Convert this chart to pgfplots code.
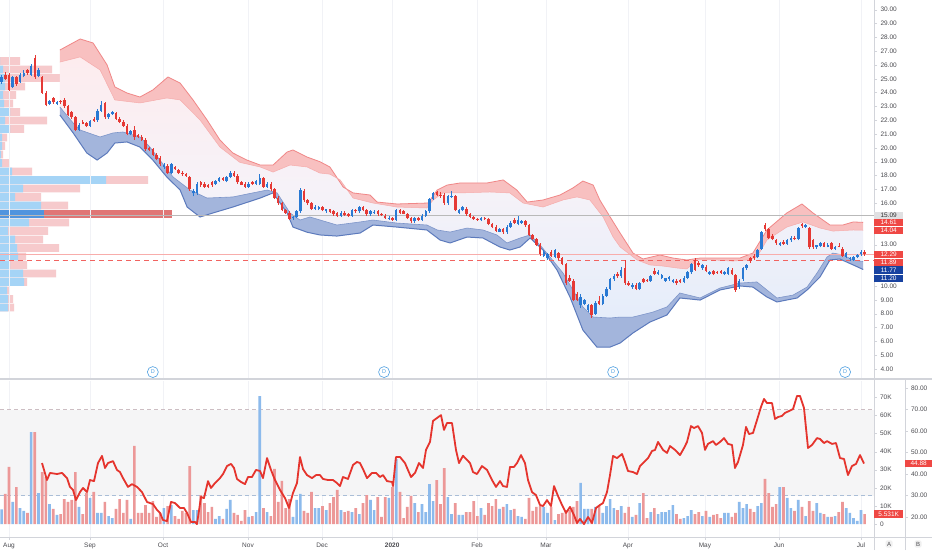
\documentclass[border=0pt]{standalone}
\usepackage{pgfplots}
\pgfplotsset{compat=1.18}
\usepackage{pgfplotstable}
\usepackage{fontspec}
\setmainfont{Liberation Sans}

\definecolor{upc}{RGB}{41,121,211}
\definecolor{dnc}{RGB}{229,57,53}
\definecolor{rband}{RGB}{248,192,192}
\definecolor{rbandl}{RGB}{240,135,135}
\definecolor{bband}{RGB}{163,181,220}
\definecolor{bbandl}{RGB}{92,122,188}
\definecolor{shtop}{RGB}{253,236,238}
\definecolor{shmid}{RGB}{246,242,248}
\definecolor{shbot}{RGB}{229,237,250}
\definecolor{vup}{RGB}{140,186,236}
\definecolor{vdn}{RGB}{236,152,152}
\definecolor{pfb}{RGB}{165,212,246}
\definecolor{pfr}{RGB}{246,202,204}
\definecolor{pocb}{RGB}{80,148,222}
\definecolor{pocr}{RGB}{224,118,118}
\definecolor{rsic}{RGB}{229,52,45}
\definecolor{gridc}{RGB}{241,242,246}
\definecolor{bandgray}{RGB}{245,245,246}
\definecolor{txt}{RGB}{75,75,80}
\definecolor{boxr}{RGB}{239,72,68}
\definecolor{boxb}{RGB}{24,66,160}
\definecolor{dcol}{RGB}{80,160,225}
\definecolor{sep}{RGB}{210,212,218}

\pgfplotsset{
  /pgf/number format/assume math mode=true,
  pane/.style={scale only axis, anchor=south west, xmin=-2.44, xmax=234.54,
    tick label style={font=\fontsize{6.5}{7}\selectfont, text=txt}},
  monthticks/.style={xtick={0,21.96,41.76,64.8,84.9,103.9,126.9,145.6,167.8,188.7,208.8,231}},
}
\tikzset{
  lbl/.style={anchor=west, minimum width=29pt, minimum height=7.2pt, inner sep=0pt,
    font=\fontsize{6.5}{7}\selectfont, text=white},
  dmark/.style={circle, draw=dcol, line width=0.6pt, inner sep=0pt, minimum size=11pt,
    fill=white, text=dcol, font=\fontsize{5.5}{6}\selectfont},
}

% candles: index, open, high, low, close
\pgfplotstableread{
i o h l c
-2 24.8 25.3 24.6 25.1
-1 25.3 25.5 24.9 25.0
0 25.3 25.4 24.1 24.2
1 24.4 25.2 24.3 25.1
2 25.1 25.2 24.5 24.6
3 24.8 25.4 24.7 25.3
4 25.2 25.6 25.1 25.4
5 25.6 25.7 25.3 25.4
6 25.3 26.1 25.2 25.9
7 26.5 26.7 25.0 25.1
8 25.2 25.8 25.1 25.6
9 25.1 25.2 23.9 24.0
10 24.0 24.1 23.0 23.1
11 23.2 23.5 23.1 23.4
12 23.6 23.7 23.2 23.3
13 23.2 23.4 23.1 23.35
14 23.4 23.5 23.2 23.3
15 23.5 23.6 22.9 23.0
16 23.0 23.1 22.3 22.4
17 22.6 22.7 22.1 22.2
18 22.2 22.3 21.2 21.3
19 21.3 21.8 21.2 21.65
20 21.9 22.0 21.7 21.75
21 21.8 21.9 21.5 21.55
22 21.6 22.0 21.5 21.95
23 22.1 22.2 21.9 21.95
24 22.0 22.8 21.9 22.7
25 22.7 23.4 22.6 23.1
26 23.25 23.3 22.1 22.2
27 22.2 22.5 22.1 22.45
28 22.45 22.7 22.4 22.6
29 22.5 22.6 22.0 22.1
30 22.1 22.2 21.8 21.9
31 21.9 22.0 21.5 21.6
32 21.6 21.7 20.9 21.0
33 21.0 21.3 20.9 21.2
34 21.3 21.6 20.6 20.8
35 20.9 21.0 20.7 20.8
36 20.8 20.9 20.5 20.6
37 20.6 20.7 19.8 19.9
38 20.0 20.1 19.75 19.85
39 19.9 20.0 19.4 19.5
40 19.5 19.6 19.1 19.2
41 19.3 19.4 18.7 18.8
42 18.6 18.9 18.5 18.75
43 18.7 18.8 18.1 18.2
44 18.2 18.9 18.1 18.8
45 18.6 18.7 18.4 18.45
46 18.4 18.5 18.1 18.2
47 18.2 18.3 18.0 18.1
48 18.1 18.2 17.9 17.95
49 17.9 18.0 16.9 17.0
50 16.7 17.0 16.5 16.9
51 16.7 17.5 16.6 17.4
52 17.5 17.6 17.2 17.3
53 17.4 17.5 17.1 17.2
54 17.3 17.4 17.1 17.2
55 17.5 17.6 17.2 17.3
56 17.4 17.7 17.3 17.6
57 17.6 17.9 17.5 17.8
58 17.8 17.9 17.6 17.7
59 17.6 18.0 17.5 17.9
60 17.9 18.3 17.8 18.2
61 18.2 18.3 17.9 18.0
62 18.0 18.1 17.4 17.5
63 17.5 17.6 17.3 17.35
64 17.4 17.5 17.1 17.2
65 17.2 17.5 17.1 17.4
66 17.5 17.6 17.3 17.4
67 17.4 17.7 17.3 17.6
68 17.4 18.1 17.3 17.8
69 17.8 17.9 17.1 17.2
70 17.2 17.5 17.1 17.4
71 17.4 17.5 16.9 17.0
72 17.0 17.1 16.3 16.4
73 16.4 16.5 15.9 16.0
74 16.0 16.1 15.4 15.5
75 15.5 15.6 15.2 15.3
76 15.3 15.4 14.8 14.85
77 14.9 15.1 14.8 15.0
78 15.0 15.5 14.9 15.4
79 15.4 17.1 15.3 16.95
80 16.9 17.0 16.1 16.2
81 16.2 16.3 15.9 16.0
82 16.0 16.1 15.5 15.6
83 15.6 15.85 15.5 15.75
84 15.6 15.8 15.5 15.7
85 15.7 15.8 15.4 15.5
86 15.4 15.6 15.3 15.55
87 15.55 15.6 15.3 15.35
88 15.4 15.5 15.1 15.2
89 15.3 15.35 15.0 15.1
90 15.1 15.4 15.0 15.3
91 15.3 15.4 15.1 15.15
92 15.2 15.3 15.0 15.1
93 15.1 15.6 15.0 15.5
94 15.5 15.6 15.3 15.4
95 15.4 15.8 15.3 15.7
96 15.7 15.8 15.4 15.5
97 15.5 15.6 15.1 15.2
98 15.2 15.5 15.1 15.4
99 15.3 15.5 15.2 15.35
100 15.4 15.5 15.1 15.2
101 15.2 15.3 15.1 15.15
102 15.1 15.2 14.85 14.9
103 14.85 15.05 14.8 14.95
104 14.95 15.0 14.7 14.8
105 14.8 15.6 14.7 15.5
106 15.5 15.6 15.2 15.3
107 15.4 15.5 15.2 15.25
108 15.25 15.3 14.85 14.9
109 14.9 15.0 14.6 14.7
110 14.7 15.0 14.6 14.9
111 14.9 15.0 14.7 14.8
112 14.8 15.2 14.7 15.1
113 15.1 15.5 15.0 15.4
114 15.4 16.4 15.3 16.3
115 16.3 16.8 16.2 16.7
116 16.8 16.9 16.5 16.6
117 16.6 16.8 16.4 16.5
118 16.6 16.7 15.9 16.0
119 16.0 16.6 15.9 16.5
120 16.45 16.9 16.4 16.55
121 16.5 16.6 15.4 15.5
122 15.3 15.6 15.2 15.5
123 15.5 15.8 15.4 15.7
124 15.6 15.7 15.1 15.2
125 15.2 15.3 14.9 15.0
126 15.0 15.1 14.8 14.85
127 14.85 14.9 14.7 14.8
128 14.75 15.0 14.7 14.95
129 14.95 15.0 14.8 14.85
130 14.85 14.9 14.4 14.5
131 14.5 14.6 14.2 14.3
132 14.3 14.4 13.9 14.0
133 13.95 14.2 13.9 14.15
134 14.1 14.2 13.8 13.9
135 13.9 14.4 13.8 14.3
136 14.3 14.7 14.2 14.6
137 14.8 14.9 14.5 14.55
138 14.5 15.1 14.4 14.8
139 14.6 14.8 14.5 14.7
140 14.7 14.8 14.3 14.4
141 14.4 14.5 13.6 13.7
142 13.7 13.8 13.3 13.4
143 13.4 13.5 12.9 13.0
144 13.0 13.1 12.2 12.3
145 12.2 12.6 12.1 12.45
146 12.0 12.4 11.9 12.3
147 12.5 12.6 12.1 12.2
148 12.1 12.7 12.0 12.6
149 12.4 12.5 11.9 12.0
150 12.0 12.1 11.5 11.6
151 11.6 11.7 10.1 10.2
152 10.6 10.8 10.3 10.4
153 10.4 10.5 8.9 9.0
154 9.4 9.6 8.9 9.0
155 8.6 9.4 8.4 9.2
156 8.7 9.1 8.6 9.0
157 8.3 8.7 8.1 8.6
158 8.6 8.7 7.7 7.9
159 8.0 8.9 7.9 8.8
160 8.9 9.3 8.6 8.7
161 8.7 9.4 8.6 9.3
162 9.3 9.9 9.2 9.8
163 9.8 10.6 9.7 10.5
164 10.5 10.9 10.4 10.75
165 10.9 11.0 10.6 10.7
166 10.7 11.4 10.6 11.2
167 11.3 11.9 10.1 10.2
168 10.2 10.4 10.0 10.1
169 9.9 10.2 9.8 10.1
170 10.1 10.2 9.7 9.8
171 9.8 10.3 9.7 10.2
172 10.5 10.6 10.2 10.3
173 10.45 10.5 10.3 10.35
174 10.35 10.8 10.3 10.7
175 11.1 11.3 10.8 10.9
176 10.9 11.2 10.8 11.05
177 10.6 10.9 10.5 10.8
178 10.4 10.6 10.3 10.55
179 10.5 10.7 10.4 10.65
180 10.3 10.5 10.2 10.45
181 10.4 10.5 10.1 10.2
182 10.45 10.5 10.2 10.3
183 10.3 10.7 10.2 10.6
184 10.6 11.1 10.5 11.0
185 11.0 11.7 10.9 11.6
186 11.9 12.0 11.1 11.2
187 11.7 11.8 11.4 11.5
188 11.3 11.6 11.2 11.5
189 11.4 11.5 11.0 11.1
190 10.9 11.1 10.8 11.05
191 11.1 11.2 10.8 10.9
192 11.05 11.1 10.9 10.95
193 11.1 11.2 10.9 10.95
194 10.9 11.1 10.8 11.05
195 10.9 11.4 10.8 11.3
196 11.2 11.3 10.8 10.85
197 10.8 10.9 9.6 9.7
198 9.9 10.5 9.8 10.4
199 10.5 11.4 10.4 11.3
200 11.3 11.6 11.2 11.5
201 12.0 12.1 11.7 11.8
202 12.2 12.3 11.9 12.0
203 12.1 12.7 12.0 12.6
204 12.7 14.0 12.6 13.9
205 14.4 14.6 14.0 14.1
206 14.1 14.2 13.4 13.5
207 13.6 13.8 13.3 13.4
208 13.3 13.4 13.0 13.1
209 13.0 13.2 12.9 13.1
210 13.2 13.3 13.0 13.05
211 13.05 13.4 13.0 13.3
212 13.3 13.6 13.2 13.5
213 13.5 13.6 13.3 13.4
214 13.4 14.3 13.3 14.2
215 14.5 14.6 14.2 14.35
216 14.3 14.5 14.2 14.45
217 14.2 14.3 12.7 12.8
218 13.3 13.4 12.7 12.8
219 12.8 13.0 12.7 12.95
220 12.9 13.2 12.8 13.1
221 13.1 13.2 12.8 12.85
222 12.85 13.1 12.8 13.0
223 13.1 13.2 12.6 12.7
224 12.7 12.9 12.6 12.8
225 12.9 13.1 12.8 12.85
226 12.7 12.8 12.1 12.2
227 12.1 12.5 12.0 12.4
228 11.95 12.1 11.85 12.05
229 11.9 12.2 11.8 12.1
230 12.1 12.3 12.0 12.25
231 12.3 12.6 12.2 12.5
232 12.5 12.6 12.2 12.29
}\candles

% band edges (upper outer, upper inner, lower inner, lower outer)
\pgfplotstableread{
i p
13.8 27.08
19.3 27.88
22.8 27.59
26.6 26.0
28.7 24.41
32.0 23.97
35.5 23.68
39.0 24.19
43.1 25.13
46.4 24.69
49.9 23.47
53.7 22.02
57.2 20.57
60.7 19.63
64.5 19.12
68.1 18.76
71.6 18.76
75.4 19.70
77.0 19.85
80.8 19.34
84.3 19.0
87.0 18.62
90.6 17.17
93.3 16.74
97.9 16.59
99.8 16.08
105.2 15.94
113.6 16.01
116.1 16.95
118.8 17.31
122.3 17.46
129.6 17.46
134.0 17.68
137.7 16.95
140.5 16.08
144.8 16.23
149.4 16.59
152.9 17.10
155.6 17.60
158.4 17.31
160.2 16.23
163.0 15.0
165.7 13.84
169.2 12.39
171.9 11.96
176.5 12.25
180.0 12.03
183.8 11.89
187.4 12.03
192.8 12.03
198.2 12.03
201.7 12.39
205.5 14.06
210.9 15.29
215.0 15.94
218.0 15.29
222.6 14.42
226.1 14.42
228.9 14.64
231.6 14.61
}\uo
\pgfplotstableread{
i p
13.8 26.21
19.3 26.58
24.7 25.64
28.7 23.47
35.5 23.25
42.8 23.61
46.4 23.47
51.8 22.02
57.2 20.06
62.6 18.95
68.1 18.62
71.6 18.25
76.2 18.76
80.8 18.62
84.3 18.18
87.0 18.1
89.8 17.68
93.3 16.37
98.7 16.01
105.2 15.72
113.3 15.65
115.0 16.23
117.7 16.74
122.3 16.74
130.4 16.81
135.8 16.74
139.4 16.01
144.8 15.72
150.2 16.23
154.0 16.45
157.5 16.23
161.1 15.0
163.8 13.55
165.7 12.83
170.3 11.89
173.8 11.53
177.3 11.45
181.1 11.31
183.8 11.24
186.6 11.89
190.9 11.89
196.3 11.81
200.1 11.89
202.8 12.10
205.5 13.33
210.9 14.27
215.3 14.64
219.9 14.20
223.4 13.98
228.9 14.06
231.6 14.04
}\ui
\pgfplotstableread{
i p
13.8 22.96
17.4 21.80
19.3 21.29
24.7 20.79
28.2 21.08
30.9 21.15
35.5 20.79
38.2 20.06
40.9 19.12
44.5 17.89
49.1 16.95
53.7 16.37
60.7 16.45
70.0 16.95
72.7 16.74
76.2 15.29
78.9 14.78
81.6 15.0
88.9 14.42
95.2 14.64
98.7 14.78
105.2 14.56
113.3 14.42
116.1 14.06
119.6 13.91
124.2 14.20
128.5 14.06
132.3 13.70
135.0 13.12
138.6 13.48
141.3 13.70
144.0 12.97
146.7 12.10
150.2 10.95
152.9 9.72
155.6 8.49
158.4 7.76
163.0 7.69
165.7 7.76
169.2 7.76
174.6 8.12
178.4 8.49
181.9 9.50
187.4 9.14
192.8 9.86
198.2 10.22
202.8 10.30
205.5 9.72
208.2 9.14
212.6 9.35
216.4 9.93
219.1 10.95
221.8 12.10
223.4 12.39
226.1 12.25
228.9 11.89
231.6 11.77
}\li
\pgfplotstableread{
i p
13.8 22.38
17.4 21.08
21.1 19.63
23.9 19.12
26.6 19.63
28.7 20.35
32.0 20.43
35.5 20.06
39.0 19.12
42.8 17.89
46.4 16.95
48.3 15.72
51.8 15.0
55.3 15.29
60.7 15.72
68.1 16.37
71.6 16.74
75.4 15.29
77.0 14.27
80.8 13.9
84.3 13.7
88.9 13.62
95.2 13.84
98.7 14.42
105.2 14.27
113.3 14.06
116.9 13.33
119.6 13.12
124.2 13.55
128.5 13.48
133.1 12.83
135.8 12.61
138.6 12.83
141.3 13.48
144.8 12.61
148.6 11.16
152.1 9.21
155.6 6.82
159.4 5.59
163.0 5.59
165.7 5.88
169.2 6.61
173.8 7.40
178.4 7.91
181.9 9.14
187.4 8.99
192.8 9.72
198.2 10.01
201.7 9.93
205.5 9.21
208.2 8.85
213.7 9.14
216.4 9.72
219.9 10.66
222.6 11.89
225.3 11.96
228.9 11.53
231.6 11.20
}\lo

% closed outlines of the three filled regions (one edge forward, the other back)
\pgfplotstableread{
i p
13.8 27.08
19.3 27.88
22.8 27.59
26.6 26.0
28.7 24.41
32.0 23.97
35.5 23.68
39.0 24.19
43.1 25.13
46.4 24.69
49.9 23.47
53.7 22.02
57.2 20.57
60.7 19.63
64.5 19.12
68.1 18.76
71.6 18.76
75.4 19.70
77.0 19.85
80.8 19.34
84.3 19.0
87.0 18.62
90.6 17.17
93.3 16.74
97.9 16.59
99.8 16.08
105.2 15.94
113.6 16.01
116.1 16.95
118.8 17.31
122.3 17.46
129.6 17.46
134.0 17.68
137.7 16.95
140.5 16.08
144.8 16.23
149.4 16.59
152.9 17.10
155.6 17.60
158.4 17.31
160.2 16.23
163.0 15.0
165.7 13.84
169.2 12.39
171.9 11.96
176.5 12.25
180.0 12.03
183.8 11.89
187.4 12.03
192.8 12.03
198.2 12.03
201.7 12.39
205.5 14.06
210.9 15.29
215.0 15.94
218.0 15.29
222.6 14.42
226.1 14.42
228.9 14.64
231.6 14.61
231.6 14.04
228.9 14.06
223.4 13.98
219.9 14.20
215.3 14.64
210.9 14.27
205.5 13.33
202.8 12.10
200.1 11.89
196.3 11.81
190.9 11.89
186.6 11.89
183.8 11.24
181.1 11.31
177.3 11.45
173.8 11.53
170.3 11.89
165.7 12.83
163.8 13.55
161.1 15.0
157.5 16.23
154.0 16.45
150.2 16.23
144.8 15.72
139.4 16.01
135.8 16.74
130.4 16.81
122.3 16.74
117.7 16.74
115.0 16.23
113.3 15.65
105.2 15.72
98.7 16.01
93.3 16.37
89.8 17.68
87.0 18.1
84.3 18.18
80.8 18.62
76.2 18.76
71.6 18.25
68.1 18.62
62.6 18.95
57.2 20.06
51.8 22.02
46.4 23.47
42.8 23.61
35.5 23.25
28.7 23.47
24.7 25.64
19.3 26.58
13.8 26.21
}\upoly
\pgfplotstableread{
i p
13.8 26.21
19.3 26.58
24.7 25.64
28.7 23.47
35.5 23.25
42.8 23.61
46.4 23.47
51.8 22.02
57.2 20.06
62.6 18.95
68.1 18.62
71.6 18.25
76.2 18.76
80.8 18.62
84.3 18.18
87.0 18.1
89.8 17.68
93.3 16.37
98.7 16.01
105.2 15.72
113.3 15.65
115.0 16.23
117.7 16.74
122.3 16.74
130.4 16.81
135.8 16.74
139.4 16.01
144.8 15.72
150.2 16.23
154.0 16.45
157.5 16.23
161.1 15.0
163.8 13.55
165.7 12.83
170.3 11.89
173.8 11.53
177.3 11.45
181.1 11.31
183.8 11.24
186.6 11.89
190.9 11.89
196.3 11.81
200.1 11.89
202.8 12.10
205.5 13.33
210.9 14.27
215.3 14.64
219.9 14.20
223.4 13.98
228.9 14.06
231.6 14.04
231.6 11.77
228.9 11.89
226.1 12.25
223.4 12.39
221.8 12.10
219.1 10.95
216.4 9.93
212.6 9.35
208.2 9.14
205.5 9.72
202.8 10.30
198.2 10.22
192.8 9.86
187.4 9.14
181.9 9.50
178.4 8.49
174.6 8.12
169.2 7.76
165.7 7.76
163.0 7.69
158.4 7.76
155.6 8.49
152.9 9.72
150.2 10.95
146.7 12.10
144.0 12.97
141.3 13.70
138.6 13.48
135.0 13.12
132.3 13.70
128.5 14.06
124.2 14.20
119.6 13.91
116.1 14.06
113.3 14.42
105.2 14.56
98.7 14.78
95.2 14.64
88.9 14.42
81.6 15.0
78.9 14.78
76.2 15.29
72.7 16.74
70.0 16.95
60.7 16.45
53.7 16.37
49.1 16.95
44.5 17.89
40.9 19.12
38.2 20.06
35.5 20.79
30.9 21.15
28.2 21.08
24.7 20.79
19.3 21.29
17.4 21.80
13.8 22.96
}\mpoly
\pgfplotstableread{
i p
13.8 22.96
17.4 21.80
19.3 21.29
24.7 20.79
28.2 21.08
30.9 21.15
35.5 20.79
38.2 20.06
40.9 19.12
44.5 17.89
49.1 16.95
53.7 16.37
60.7 16.45
70.0 16.95
72.7 16.74
76.2 15.29
78.9 14.78
81.6 15.0
88.9 14.42
95.2 14.64
98.7 14.78
105.2 14.56
113.3 14.42
116.1 14.06
119.6 13.91
124.2 14.20
128.5 14.06
132.3 13.70
135.0 13.12
138.6 13.48
141.3 13.70
144.0 12.97
146.7 12.10
150.2 10.95
152.9 9.72
155.6 8.49
158.4 7.76
163.0 7.69
165.7 7.76
169.2 7.76
174.6 8.12
178.4 8.49
181.9 9.50
187.4 9.14
192.8 9.86
198.2 10.22
202.8 10.30
205.5 9.72
208.2 9.14
212.6 9.35
216.4 9.93
219.1 10.95
221.8 12.10
223.4 12.39
226.1 12.25
228.9 11.89
231.6 11.77
231.6 11.20
228.9 11.53
225.3 11.96
222.6 11.89
219.9 10.66
216.4 9.72
213.7 9.14
208.2 8.85
205.5 9.21
201.7 9.93
198.2 10.01
192.8 9.72
187.4 8.99
181.9 9.14
178.4 7.91
173.8 7.40
169.2 6.61
165.7 5.88
163.0 5.59
159.4 5.59
155.6 6.82
152.1 9.21
148.6 11.16
144.8 12.61
141.3 13.48
138.6 12.83
135.8 12.61
133.1 12.83
128.5 13.48
124.2 13.55
119.6 13.12
116.9 13.33
113.3 14.06
105.2 14.27
98.7 14.42
95.2 13.84
88.9 13.62
84.3 13.7
80.8 13.9
77.0 14.27
75.4 15.29
71.6 16.74
68.1 16.37
60.7 15.72
55.3 15.29
51.8 15.0
48.3 15.72
46.4 16.95
42.8 17.89
39.0 19.12
35.5 20.06
32.0 20.43
28.7 20.35
26.6 19.63
23.9 19.12
21.1 19.63
17.4 21.08
13.8 22.38
}\lpoly

\pgfplotstableread{
p b t
26.29 0 20
25.67 3 52
25.06 5 69
24.44 5 25
23.83 3 16
23.21 4 13
22.60 10 20
21.98 5 47
21.37 10 24
20.75 2 7
20.14 2 5
19.52 1 3
18.91 2 9
18.29 12 32
17.68 106 148
17.06 23 80
16.45 15 41
15.83 41 68
14.60 29 69
13.99 8 48
13.37 15 43
12.76 17 59
12.14 18 26
11.53 10 27
10.91 23 56
10.30 24 27
9.68 7 9
9.07 8 13
8.45 8 14
}\vprof

\pgfplotstableread{
i v d
-2 8.1 1
-1 16.6 0
0 31.5 0
1 12.2 1
2 20.4 0
3 8.8 1
4 7.2 1
5 6.1 0
6 50.8 1
7 50.8 0
8 17.1 1
9 28.7 0
10 26 0
11 11 1
12 8.3 0
13 5 1
14 5.5 0
15 13.8 0
16 12.2 0
17 13.3 0
18 28.7 0
19 9.4 1
20 5.5 0
21 17.1 0
22 14.4 1
23 17.7 0
24 6.1 1
25 6.1 1
26 12.2 0
27 4.4 1
28 3.3 1
29 8.3 0
30 13.8 0
31 6.1 0
32 13.3 0
33 2.8 1
34 43.1 0
35 6.1 0
36 6.1 0
37 10.5 0
38 6.1 0
39 12.7 0
40 3.9 0
41 6.1 0
42 8.8 1
43 9.9 0
44 10.5 1
45 4.4 0
46 2.8 0
47 7.2 0
48 6.1 0
49 32 0
50 7.7 1
51 7.7 1
52 16 0
53 11.6 0
54 6.6 0
55 9.4 0
56 2.8 1
57 4.4 1
58 2.8 0
59 8.3 1
60 13.3 1
61 6.1 0
62 5 0
63 1.7 0
64 7.7 0
65 3.9 1
66 4.4 0
67 6.6 1
68 70.7 1
69 8.8 0
70 6.6 1
71 4.4 0
72 30.4 0
73 12.2 0
74 23.8 0
75 8.8 0
76 13.8 0
77 3.9 1
78 13.3 1
79 16.6 1
80 7.2 0
81 6.1 0
82 17.7 0
83 8.8 1
84 8.8 1
85 9.9 0
86 7.7 1
87 11.6 0
88 14.9 0
89 18.8 0
90 7.7 1
91 6.6 0
92 7.2 0
93 6.6 1
94 8.8 0
95 5.5 1
96 11.6 0
97 16 0
98 13.3 1
99 7.7 1
100 14.9 0
101 3.9 0
102 14.9 0
103 14.4 1
104 20.4 0
105 35.9 1
106 17.7 0
107 3.3 0
108 9.4 0
109 15.5 0
110 11.6 1
111 6.6 0
112 11 1
113 6.6 1
114 22.1 1
115 12.7 1
116 24.3 0
117 11 0
118 30.9 0
119 14.9 1
120 5.5 1
121 11.6 0
122 5 1
123 5 1
124 6.6 0
125 6.6 0
126 12.7 0
127 4.4 0
128 8.8 1
129 5 0
130 11.6 0
131 9.9 0
132 13.8 0
133 8.3 1
134 9.4 0
135 11 1
136 7.7 1
137 8.3 0
138 4.4 1
139 3.9 1
140 2.8 0
141 14.4 0
142 7.2 0
143 9.4 0
144 9.9 0
145 9.4 1
146 6.1 1
147 9.4 0
148 2.2 1
149 5.5 0
150 6.1 0
151 7.7 0
152 7.7 0
153 9.4 0
154 12.7 0
155 22.7 1
156 8.3 1
157 8.3 1
158 8.3 0
159 9.4 1
160 9.9 0
161 6.1 1
162 9.9 1
163 13.8 1
164 8.8 1
165 7.7 0
166 9.9 1
167 6.1 0
168 9.4 0
169 3.9 1
170 5 0
171 11.6 1
172 17.1 0
173 3.3 0
174 6.6 1
175 8.8 0
176 5.5 1
177 6.6 1
178 6.6 1
179 7.7 1
180 10.5 1
181 5.5 0
182 2.8 0
183 3.3 1
184 4.4 1
185 7.7 1
186 5.5 0
187 6.6 0
188 4.4 1
189 7.2 0
190 3.9 1
191 5 0
192 5.5 0
193 3.3 0
194 6.1 1
195 6.1 1
196 3.9 0
197 6.1 0
198 12.2 1
199 8.8 1
200 11 1
201 8.3 0
202 6.6 0
203 9.9 1
204 11.6 1
205 24.9 0
206 17.1 0
207 9.4 0
208 11 0
209 20.4 1
210 20.4 0
211 14.4 1
212 8.8 1
213 7.2 0
214 13.3 1
215 9.4 0
216 4.4 1
217 12.7 0
218 7.2 0
219 11.6 1
220 6.1 1
221 5.5 0
222 3.9 1
223 3.9 0
224 4.4 1
225 6.6 0
226 12.2 0
227 8.8 1
228 6.1 1
229 3.3 1
230 1.7 1
231 7.7 1
232 5.5 0
}\vol

\pgfplotstableread{
i r
8.95 45.1
10.30 37.2
11.12 40.5
13.02 40
14.37 40.5
15.73 38.1
16.54 34
17.35 32.6
18.17 27.9
19.25 31.6
20.07 33.5
21.15 31.6
21.96 37.2
23.05 36.7
24.13 45.1
25.22 48.4
26.03 42.8
26.84 45.1
28.20 46
29.28 41.9
30.10 40.9
30.91 38.1
32.27 34
33.35 35.3
34.71 34
36.06 31.6
37.42 27
39.05 26
40.13 23.3
40.94 21.9
41.76 18.6
42.84 18.1
43.93 27
45.01 26.5
46.37 24.2
47.45 24.2
48.27 21.9
49.35 17.7
50.43 17.7
50.98 16.7
52.06 29.3
52.87 28.8
53.96 36.7
54.77 33.5
55.86 35.8
57.21 38.1
58.03 40
59.11 43.7
60.20 44.7
61.01 42.8
61.82 37.7
62.91 36.3
63.99 35.3
64.81 38.6
65.89 38.6
66.97 41.9
68.06 41.4
68.87 38.1
69.96 47.4
71.04 41.9
72.13 37.2
73.48 32.6
74.84 28.8
75.92 24.2
77.01 31.2
78.09 35.8
78.90 47.9
79.72 42.3
80.80 39.5
82.16 38.1
83.24 39.5
84.33 39.5
85.14 37.7
86.50 37.2
87.85 37.2
88.94 35.8
89.75 34.4
90.56 38.6
91.92 37.7
93.28 44.2
94.36 45.6
95.17 45.1
95.99 42.3
97.07 38.1
98.43 40.5
99.51 40.5
100.60 38.6
101.41 39.5
102.49 36.7
103.85 36.3
104.12 34.4
104.93 47.9
106.02 47.9
107.37 45.1
109.00 38.6
110.09 40.5
111.17 45.1
112.26 42.8
113.07 51.2
114.15 54.9
114.97 64.7
117.14 67.4
117.95 60.5
118.76 63.7
120.12 63.7
121.20 51.2
122.02 45.1
123.10 48.5
125.00 45.1
125.81 40.9
126.90 40
128.25 43.7
129.61 41.9
130.97 37.2
132.05 34
133.14 36.7
133.95 34.4
135.03 34
135.85 43.3
136.93 43.3
137.74 45.1
138.83 48.8
139.91 45.1
140.73 37.2
141.81 31.6
142.89 30.2
143.98 25.6
144.79 25.1
145.88 27.9
146.96 25.1
147.78 34.4
148.86 29.8
149.95 25.6
151.03 21.9
152.11 24.7
153.20 20.9
154.01 17.2
154.83 19.1
155.91 16.7
157.00 20
158.08 17.2
159.17 24.2
160.25 25.6
161.06 26.5
162.15 31.6
162.96 39.5
163.78 48.4
164.86 47.4
166.22 49.3
167.03 45.6
167.84 41.4
169.20 40.9
170.28 40
171.10 43.7
172.45 46
173.27 47.4
174.35 50.7
175.17 51.2
175.98 54.9
177.34 51.2
178.42 49.8
179.24 53
180.59 51.2
181.95 48.8
183.03 52.1
183.84 54.9
184.93 62.3
185.74 61.4
186.82 62.3
187.91 59.1
188.72 51.2
189.53 54
190.89 55.3
191.70 53.5
192.79 54.9
193.87 56.7
194.96 54
196.04 53.5
196.85 42.8
197.67 45.6
199.02 53.5
199.84 61.9
200.65 58.6
201.74 59.1
202.82 65.1
203.90 71.2
204.72 74.9
205.53 73
206.89 73
207.70 65.6
208.51 66.5
209.60 67
210.41 68.4
211.50 69.3
212.58 70.2
213.67 76.3
214.48 76.3
215.56 70.7
216.65 52.1
217.73 53.5
219.09 56.7
219.90 56.3
220.99 54.4
221.80 55.3
223.16 54
224.24 54.4
225.33 47.4
226.41 47
227.49 39.5
228.58 43.7
229.66 44.7
230.75 48.8
231.83 44.88
}\rsi

\begin{document}
\begin{tikzpicture}[x=1pt,y=1pt]
\fill[white] (0,0) rectangle (932,550);
\path[use as bounding box] (0,0) rectangle (932,550);

% ---------- volume profile (behind price pane)
\begin{axis}[pane, at={(0pt,172pt)}, width=874pt, height=378pt,
  xmin=0, xmax=874, ymin=3.35, ymax=30.70, hide axis]
\addplot[xbar, bar width=0.56, bar shift=0pt, draw=none, fill=pfr] table[x=t, y=p] {\vprof};
\addplot[xbar, bar width=0.56, bar shift=0pt, draw=none, fill=pfb] table[x=b, y=p] {\vprof};
\addplot[xbar, bar width=0.56, bar shift=0pt, draw=none, fill=pocr] coordinates {(172,15.22)};
\addplot[xbar, bar width=0.56, bar shift=0pt, draw=none, fill=pocb] coordinates {(44,15.22)};
\end{axis}

% ---------- price pane
\begin{axis}[pane, at={(0pt,172pt)}, width=874pt, height=378pt,
  ymin=3.35, ymax=30.70,
  axis x line*=bottom, axis y line*=right,
  x axis line style={draw=none}, y axis line style={draw=sep},
  monthticks, xticklabels={}, xtick style={draw=none},
  xmajorgrids, major x grid style={gridc, line width=0.6pt},
  ytick={4,5,6,7,8,9,10,13,16,17,18,19,20,21,22,23,24,25,26,27,28,29,30},
  ytick style={draw=sep}, tick align=outside, major tick length=3pt,
  yticklabel style={/pgf/number format/fixed, /pgf/number format/fixed zerofill,
    /pgf/number format/precision=2},
  scaled y ticks=false]
\addplot[draw=none, top color=shtop, bottom color=shbot, middle color=shmid] table[x=i, y=p] {\mpoly};
\addplot[fill=rband, draw=none] table[x=i, y=p] {\upoly};
\addplot[fill=bband, draw=none] table[x=i, y=p] {\lpoly};
\addplot[rbandl, line width=0.8pt] table[x=i, y=p] {\uo};
\addplot[rbandl!70, line width=0.5pt] table[x=i, y=p] {\ui};
\addplot[bbandl!80, line width=0.6pt] table[x=i, y=p] {\li};
\addplot[bbandl, line width=1pt] table[x=i, y=p] {\lo};
\addplot[gray!55, line width=0.8pt] coordinates {(-2.44,15.09) (234.54,15.09)};
\addplot[boxr!45, line width=0.5pt] coordinates {(-2.44,12.29) (234.54,12.29)};
\addplot[boxr!85, line width=0.7pt, dash pattern=on 5pt off 4pt] coordinates {(-2.44,11.89) (234.54,11.89)};
% candle wicks and bodies, drawn as vertical segments
\addplot[upc, line width=0.6pt, restrict expr to domain={\thisrow{c}-\thisrow{o}}{0:100},
  quiver={u=0, v={\thisrow{h}-\thisrow{l}}}] table[x=i, y=l] {\candles};
\addplot[dnc, line width=0.6pt, restrict expr to domain={\thisrow{c}-\thisrow{o}}{-100:-0.0001},
  quiver={u=0, v={\thisrow{h}-\thisrow{l}}}] table[x=i, y=l] {\candles};
\addplot[upc, line width=2.5pt, restrict expr to domain={\thisrow{c}-\thisrow{o}}{0:100},
  quiver={u=0, v={max(\thisrow{c}-\thisrow{o},0.07)}}] table[x=i, y=o] {\candles};
\addplot[dnc, line width=2.5pt, restrict expr to domain={\thisrow{c}-\thisrow{o}}{-100:-0.0001},
  quiver={u=0, v={max(\thisrow{o}-\thisrow{c},0.07)}}] table[x=i, y=c] {\candles};
\coordinate (d1) at (axis cs:39,3.78);
\coordinate (d2) at (axis cs:101.7,3.78);
\coordinate (d3) at (axis cs:163.8,3.78);
\coordinate (d4) at (axis cs:226.7,3.78);
\coordinate (p1509) at (axis cs:234.54,15.09);
\coordinate (p1461) at (axis cs:234.54,14.61);
\coordinate (p1404) at (axis cs:234.54,14.04);
\coordinate (p1229) at (axis cs:234.54,12.29);
\coordinate (p1189) at (axis cs:234.54,11.89);
\coordinate (p1177) at (axis cs:234.54,11.77);
\coordinate (p1120) at (axis cs:234.54,11.20);
\end{axis}

% ---------- lower pane: RSI band background
\begin{axis}[pane, at={(0pt,13pt)}, width=874pt, height=156pt,
  ymin=10.7, ymax=83.26, axis line style={draw=none},
  monthticks, xticklabels={}, ytick=\empty, major tick length=0pt,
  xmajorgrids, major x grid style={gridc, line width=0.6pt}]
\addplot[draw=none, fill=bandgray] coordinates {(-2.44,30) (234.54,30) (234.54,70) (-2.44,70)};
\addplot[color={rgb,255:red,205;green,190;blue,195}, line width=0.7pt, dash pattern=on 4pt off 3pt] coordinates {(-2.44,70) (234.54,70)};
\addplot[color={rgb,255:red,170;green,190;blue,215}, line width=0.7pt, dash pattern=on 4pt off 3pt] coordinates {(-2.44,30) (234.54,30)};
\end{axis}

% ---------- volume
\begin{axis}[pane, at={(0pt,13pt)}, width=874pt, height=156pt,
  ymin=-7.18, ymax=79.0,
  axis x line*=bottom, axis y line*=right,
  x axis line style={draw=sep}, y axis line style={draw=sep},
  monthticks,
  xticklabels={Aug,Sep,Oct,Nov,Dec,\textbf{2020},Feb,Mar,Apr,May,Jun,Jul},
  ytick={0,10,...,70}, yticklabels={0,10K,20K,30K,40K,50K,60K,70K},
  tick align=outside, major tick length=2.5pt, tick style={draw=sep}]
\addplot[ybar, bar width=0.72, bar shift=0pt, draw=none, fill=vup,
  restrict expr to domain={\thisrow{d}}{0.5:1.5}] table[x=i, y=v] {\vol};
\addplot[ybar, bar width=0.72, bar shift=0pt, draw=none, fill=vdn,
  restrict expr to domain={\thisrow{d}}{-0.5:0.5}] table[x=i, y=v] {\vol};
\coordinate (v5531) at (axis cs:234.54,5.531);
\end{axis}

% ---------- RSI line
\begin{axis}[pane, at={(0pt,13pt)}, width=905pt, height=156pt, xmax=242.95,
  ymin=10.7, ymax=83.26,
  axis x line=none, axis y line*=right, y axis line style={draw=sep},
  ytick={20,30,...,80}, tick align=outside, major tick length=2.5pt, ytick style={draw=sep},
  yticklabel style={/pgf/number format/fixed, /pgf/number format/fixed zerofill,
    /pgf/number format/precision=2},
  scaled y ticks=false]
\addplot[rsic, line width=1.8pt, line join=round] table[x=i, y=r] {\rsi};
\coordinate (r4488) at (axis cs:242.95,44.88);
\end{axis}

\draw[sep, line width=0.7pt] (874,0) -- (874,550);
\draw[sep, line width=0.7pt] (905,0) -- (905,171);
\draw[sep, line width=1.6pt] (0,171) -- (932,171);
\draw[sep, line width=0.7pt] (0,13) -- (932,13);

\node[dmark] at (d1) {D};
\node[dmark] at (d2) {D};
\node[dmark] at (d3) {D};
\node[dmark] at (d4) {D};

\node[lbl, fill={rgb,255:red,224;green,224;blue,226}, text=black!80] at (p1509) {15.09};
\node[lbl, fill=boxr] at (p1461) {14.61};
\node[lbl, fill=boxr] at (p1404) {14.04};
\node[lbl, fill=boxr] at (p1229) {12.29};
\node[lbl, fill=boxr, yshift=-2.2pt] at (p1189) {11.89};
\node[lbl, fill=boxb, yshift=-8.4pt] at (p1177) {11.77};
\node[lbl, fill=boxb, yshift=-8.8pt] at (p1120) {11.20};
\node[lbl, fill=boxr] at (v5531) {5.531K};
\node[lbl, fill=boxr, minimum width=27pt] at (r4488) {44.88};

\node[fill=gray!12, rounded corners=1.5pt, inner sep=1.5pt, text=txt, font=\fontsize{6}{7}\selectfont] at (889,6) {A};
\node[fill=gray!12, rounded corners=1.5pt, inner sep=1.5pt, text=txt, font=\fontsize{6}{7}\selectfont] at (918,6) {B};
\end{tikzpicture}
\end{document}
